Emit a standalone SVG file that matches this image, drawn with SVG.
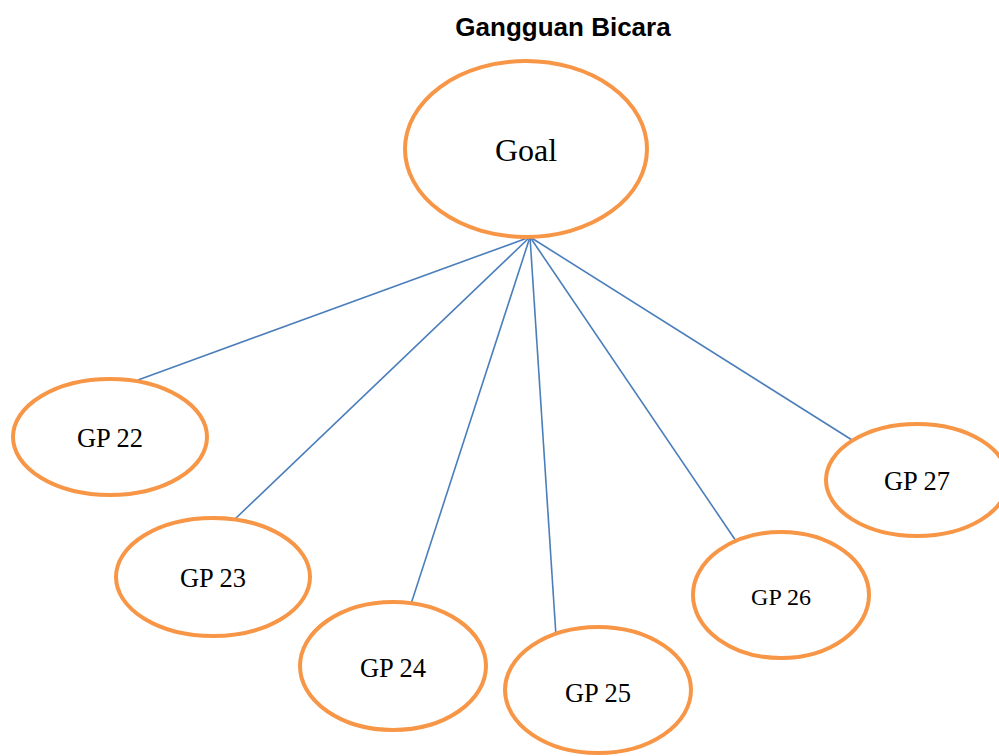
<svg xmlns="http://www.w3.org/2000/svg" width="999" height="756" viewBox="0 0 999 756">
<style>
.n{fill:#fff;stroke:#F79646;stroke-width:4}
.t{font-family:"Liberation Serif","Times New Roman",serif;font-size:26.5px;fill:#000;text-anchor:middle}
.c{stroke:#4A7EBB;stroke-width:1.6;fill:none}
</style>
<rect width="999" height="756" fill="#fff"/>
<text x="563" y="36" font-family="Liberation Sans,Arial,sans-serif" font-weight="bold" font-size="26" text-anchor="middle">Gangguan Bicara</text>
<g id="connectors">
<line class="c" x1="530" y1="237" x2="138" y2="380"/>
<line class="c" x1="530" y1="237" x2="235" y2="519"/>
<line class="c" x1="530" y1="237" x2="411" y2="604"/>
<line class="c" x1="530" y1="237" x2="556" y2="636"/>
<line class="c" x1="530" y1="237" x2="736" y2="541"/>
<line class="c" x1="530" y1="237" x2="852" y2="440"/>
</g>
<g id="goal"><ellipse class="n" cx="526" cy="149" rx="121" ry="88"/><text class="t" x="526" y="161" style="font-size:32px">Goal</text></g>
<g id="gp22"><ellipse class="n" cx="110" cy="437" rx="97" ry="58"/><text class="t" x="110" y="447">GP 22</text></g>
<g id="gp23"><ellipse class="n" cx="213" cy="577" rx="97" ry="59"/><text class="t" x="213" y="587">GP 23</text></g>
<g id="gp24"><ellipse class="n" cx="393" cy="666" rx="93" ry="64"/><text class="t" x="393" y="677">GP 24</text></g>
<g id="gp25"><ellipse class="n" cx="598" cy="690" rx="93" ry="63"/><text class="t" x="598" y="702">GP 25</text></g>
<g id="gp26"><ellipse class="n" cx="781" cy="595" rx="88" ry="63"/><text class="t" x="781" y="605" style="font-size:24px">GP 26</text></g>
<g id="gp27"><ellipse class="n" cx="917" cy="480" rx="91" ry="56"/><text class="t" x="917" y="490">GP 27</text></g>
</svg>
